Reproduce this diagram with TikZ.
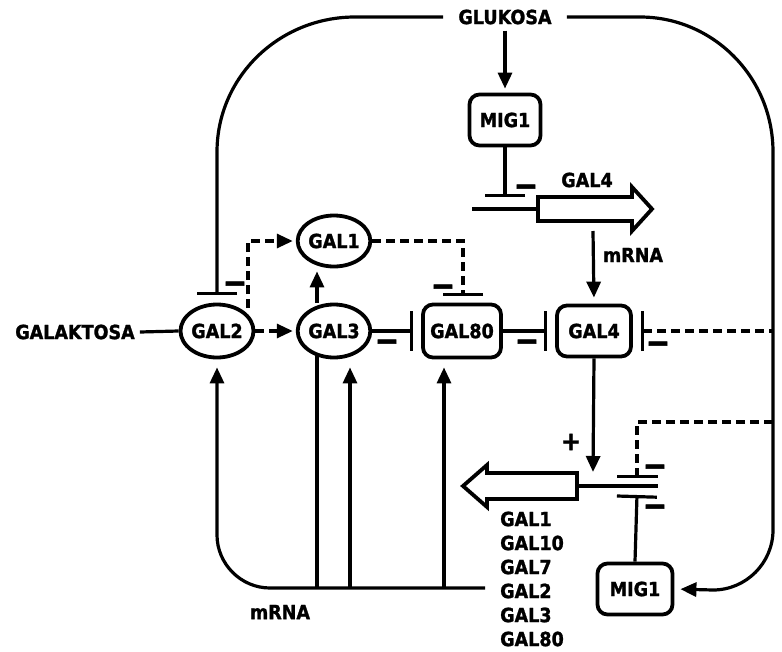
\documentclass[tikz,border=0pt]{standalone}
\usepackage{fontspec}
\setmainfont{DejaVu Sans}[FakeStretch=0.9,BoldFeatures={FakeBold=1.4}]
\newfontfamily\signfont{DejaVu Sans}[FakeStretch=1.45,BoldFeatures={FakeBold=1.4}]
\usetikzlibrary{arrows.meta,shapes.geometric}
\tikzset{
  lab/.style={font=\bfseries\fontsize{19.5}{22}\selectfont, inner sep=0pt},
  box/.style={lab, draw, line width=3.8pt, rounded corners=10pt},
  ell/.style={lab, ellipse, draw, line width=3.8pt},
  ln/.style={line width=3.2pt},
  arr/.style={ln, -{Triangle[length=16pt,width=14pt]}},
  dsh/.style={ln, dash pattern=on 9pt off 5pt},
  inh/.style={ln, -{Bar[width=40pt]}},
  sign/.style={font=\signfont\bfseries\fontsize{32}{32}\selectfont, inner sep=0pt, yshift=-4pt},
  blockarrow/.style={line width=3.8pt, line join=miter}
}
\begin{document}
\begin{tikzpicture}[x=1pt,y=-1pt]
\useasboundingbox (0,0) rectangle (782,651);

% nodes
\node[lab, inner xsep=15pt, inner ysep=6pt] (glu) at (505,17) {GLUKOSA};
\node[box, minimum width=71pt, minimum height=51pt] (mig1t) at (505,120) {MIG1};
\node[box, minimum width=74pt, minimum height=51pt] (gal4) at (594,331) {GAL4};
\node[box, minimum width=78pt, minimum height=53pt] (gal80) at (462,331) {GAL80};
\node[ell, minimum width=71pt, minimum height=53pt] (gal3) at (334,331) {GAL3};
\node[ell, minimum width=73pt, minimum height=53pt] (gal2) at (217,331) {GAL2};
\node[ell, minimum width=71pt, minimum height=51pt] (gal1) at (334,241) {GAL1};
\node[lab, inner xsep=5pt] (galak) at (75,332) {GALAKTOSA};
\node[box, minimum width=75pt, minimum height=51pt] (mig1b) at (635,589) {MIG1};

% labels
\node[lab] (lgal4) at (587,180) {GAL4};
\node[lab] (lmrna1) at (633,255) {mRNA};
\node[lab] (lmrna2) at (280,612) {mRNA};
\node[lab, font=\bfseries\fontsize{26}{26}\selectfont] (plus) at (571,442) {+};
\node[lab, anchor=west] (g1) at (500,519) {GAL1};
\node[lab, anchor=west] (g10) at (500,543) {GAL10};
\node[lab, anchor=west] (g7) at (500,567) {GAL7};
\node[lab, anchor=west] (g2) at (500,591) {GAL2};
\node[lab, anchor=west] (g3) at (500,615) {GAL3};
\node[lab, anchor=west] (g80) at (500,639) {GAL80};

% minus signs
\node[sign] (s1) at (526,186) {–};
\node[sign] (s2) at (235,283) {–};
\node[sign] (s3) at (443,286) {–};
\node[sign] (s4) at (387,341) {–};
\node[sign] (s5) at (527,341) {–};
\node[sign] (s6) at (658,343) {–};
\node[sign] (s7) at (655,466) {–};
\node[sign] (s8) at (655,506) {–};

% coordinates
\coordinate (bT) at (505,197);
\coordinate (dnaL) at (472,209);
\coordinate (dnaR) at (538,209);
\coordinate (mtop) at (593,231);
\coordinate (bL) at (217,295);
\coordinate (b3) at (413,331);
\coordinate (b80) at (547,331);
\coordinate (bR) at (641,331);
\coordinate (rv) at (773,331);
\coordinate (d2) at (248,308);
\coordinate (d1) at (463,241);
\coordinate (b1) at (463,296);
\coordinate (tip4) at (593,472);
\coordinate (dna2L) at (577,486);
\coordinate (dna2R) at (658,486);
\coordinate (rv2) at (773,422);
\coordinate (bBt) at (637,478);
\coordinate (bBb) at (637,495);
\coordinate (bE) at (485,588);
\coordinate (m1) at (317,588);
\coordinate (m2) at (350,588);
\coordinate (m3) at (444,588);
\coordinate (a1) at (317,303);

% glucose loops
\draw[inh] (glu.west) -- (355,17) .. controls (279,17) and (217,77) .. (217,152) -- (bL);
\draw[ln, -{Triangle[length=16pt,width=14pt]}, shorten >=6pt] (glu.east) -- (640,17) .. controls (713,17) and (773,77) .. (773,152) -- (773,530) .. controls (773,563) and (746,590) .. (713,590) -- (mig1b.east);
\draw[arr, shorten >=4pt] (glu.south) -- (mig1t.north);

% top gene
\draw[inh] (mig1t.south) -- (bT);
\draw[ln] (dnaL) -- (dnaR);
\draw[blockarrow] (538,197) -- (632,197) -- (632,187) -- (652,209) -- (632,231) -- (632,221) -- (538,221) -- cycle;
\draw[arr, shorten >=6pt] (mtop) -- (gal4.north);

% main chain
\draw[ln] (galak.east) -- (gal2.west);
\draw[dsh, -{Triangle[length=16pt,width=14pt]}, shorten >=3pt] (gal2.east) -- (gal3.west);
\draw[dsh, -{Triangle[length=16pt,width=14pt]}, shorten >=3pt] (d2) -- (d2 |- gal1) -- (gal1.west);
\draw[arr, shorten >=3pt] (a1) -- (a1 |- gal1.south);
\draw[dsh, -{Bar[width=40pt]}] (gal1.east) -- (d1) -- (b1);
\draw[inh] (gal3.east) -- (b3);
\draw[inh] (gal80.east) -- (b80);
\draw[dsh, {Bar[width=40pt]}-] (bR) -- (rv);
\draw[arr] (gal4.south) -- (tip4);

% bottom gene
\draw[blockarrow] (577,473) -- (487,473) -- (487,465) -- (463,486) -- (487,507) -- (487,499) -- (577,499) -- cycle;
\draw[ln] (dna2L) -- (dna2R);
\draw[dsh, -{Bar[width=41pt]}] (rv2) -- (637,422) -- (bBt);
\draw[inh] (mig1b.north) -- (bBb);

% mRNA feedback
\draw[arr, shorten >=8pt] (bE) -- (270,588) .. controls (241,588) and (217,564) .. (217,535) -- (gal2.south);
\draw[ln] (m1) -- (317,355);
\draw[arr, shorten >=8pt] (m2) -- (m2 |- gal3.south);
\draw[arr, shorten >=8pt] (m3) -- (m3 |- gal80.south);
\end{tikzpicture}
\end{document}
